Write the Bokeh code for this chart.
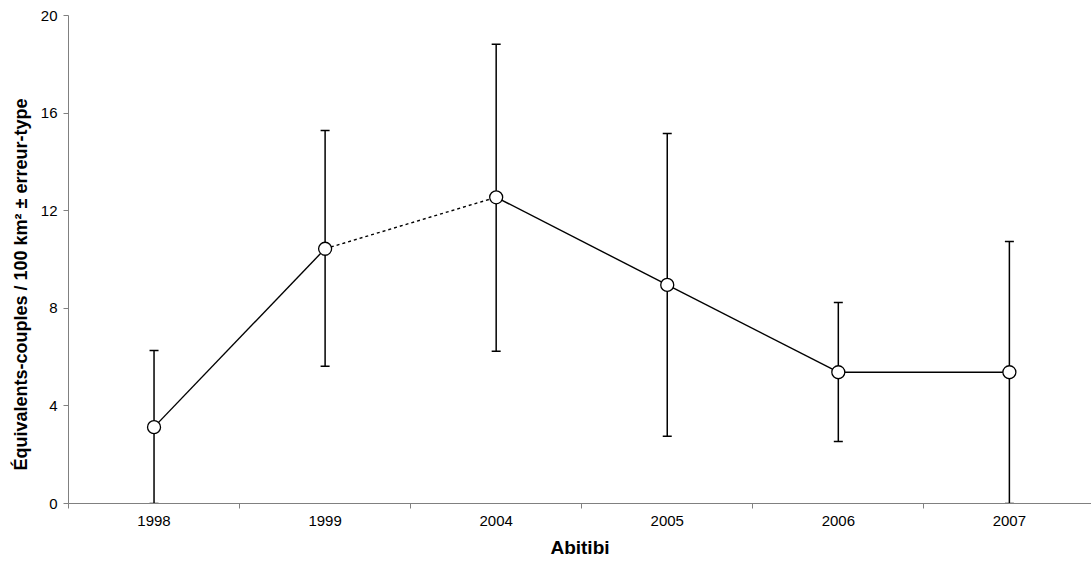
from bokeh.plotting import figure
from bokeh.models import Range1d, FixedTicker, ColumnDataSource, Whisker, TeeHead, Title
from bokeh.embed import file_html
from bokeh.resources import INLINE

# Data
years = ["1998", "1999", "2004", "2005", "2006", "2007"]
means = [3.13, 10.44, 12.55, 8.96, 5.38, 5.38]
lower = [0.0, 5.63, 6.24, 2.76, 2.54, 0.0]
upper = [6.27, 15.29, 18.82, 15.16, 8.24, 10.74]
# style of the link between consecutive years
links = ["solid", "dotted", "solid", "solid", "solid"]
y_ticks = [0, 4, 8, 12, 16, 20]
x_title = "Abitibi"
y_title = "Équivalents-couples / 100 km² ± erreur-type"

FONT = "Liberation Sans"

xs = [i + 0.5 for i in range(len(years))]

p = figure(width=1091, height=565, output_backend="svg", toolbar_location=None,
           x_range=Range1d(0, 5.98), y_range=Range1d(0, 20),
           min_border_left=68, min_border_top=15, min_border_bottom=62, min_border_right=0)
p.outline_line_color = None
p.xgrid.visible = False
p.ygrid.visible = False
p.background_fill_color = "white"
p.border_fill_color = "white"

# x axis
xa = p.xaxis[0]
xa.ticker = FixedTicker(ticks=xs, minor_ticks=list(range(len(years))))
xa.major_label_overrides = {x: y for x, y in zip(xs, years)}
xa.major_tick_out = 0
xa.major_tick_in = 0
xa.minor_tick_out = 5
xa.minor_tick_in = 0
xa.minor_tick_line_color = "#808080"
xa.axis_line_color = "#808080"
xa.major_label_text_font = FONT
xa.major_label_text_font_size = "15px"
xa.major_label_text_color = "black"
xa.major_label_standoff = 7
xa.axis_label = x_title
xa.axis_label_text_font = FONT
xa.axis_label_text_font_size = "19px"
xa.axis_label_text_font_style = "bold"
xa.axis_label_text_color = "black"
xa.axis_label_standoff = 8

# y axis
ya = p.yaxis[0]
ya.ticker = FixedTicker(ticks=y_ticks, minor_ticks=[])
ya.major_tick_out = 5
ya.major_tick_in = 0
ya.major_tick_line_color = "#808080"
ya.axis_line_color = "#808080"
ya.major_label_text_font = FONT
ya.major_label_text_font_size = "15px"
ya.major_label_text_color = "black"
ya.major_label_standoff = 6

# y title in the left panel, slightly below the frame centre as in the original
p.add_layout(Title(text=y_title, align="left", offset=33, standoff=13,
                   text_font=FONT, text_font_size="18px", text_font_style="bold",
                   text_color="black"), "left")

# links
for style, dash in (("solid", "solid"), ("dotted", "3 3")):
    idx = [i for i, s in enumerate(links) if s == style]
    src = ColumnDataSource(dict(
        x0=[xs[i] for i in idx], y0=[means[i] for i in idx],
        x1=[xs[i + 1] for i in idx], y1=[means[i + 1] for i in idx]))
    p.segment(x0="x0", y0="y0", x1="x1", y1="y1", source=src,
              line_color="black", line_width=1.4, line_dash=dash)

# error bars
esrc = ColumnDataSource(dict(x=xs, lo=lower, hi=upper, m=means))
w = Whisker(base="x", lower="lo", upper="hi", source=esrc, dimension="height",
            line_color="black", line_width=1.5,
            upper_head=TeeHead(size=9, line_color="black", line_width=1.5),
            lower_head=TeeHead(size=9, line_color="black", line_width=1.5))
p.add_layout(w)

# markers
p.scatter(x="x", y="m", source=esrc, size=13, fill_color="white",
          line_color="black", line_width=1.3)

open("out.html", "w").write(file_html(p, INLINE))
